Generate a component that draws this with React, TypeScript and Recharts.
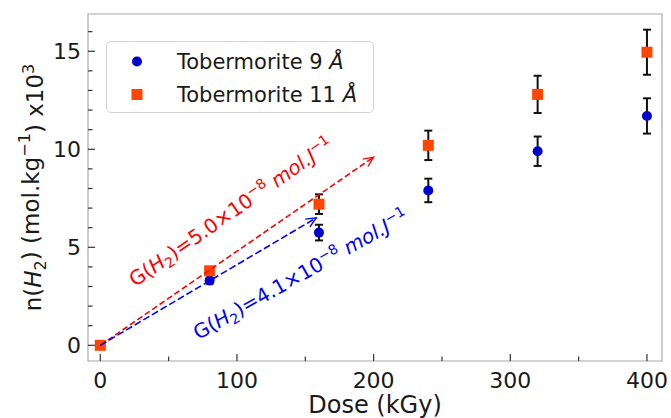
import React from "react";
import {
  ScatterChart,
  Scatter,
  XAxis,
  YAxis,
  ErrorBar,
  ReferenceArea,
  ReferenceDot,
  Legend,
} from "recharts";

const FONT = "DejaVu Sans";
const BLUE = "#0000cd";
const ORANGE = "#ff4500";

// dose in kGy, n(H2) in mol/kg x10^3
const doses = [0, 80, 160, 240, 320, 400];
const tob9 = [0, 3.3, 5.75, 7.9, 9.9, 11.7];
const tob9Err = [0, 0.15, 0.4, 0.6, 0.75, 0.9];
const tob11 = [0, 3.8, 7.2, 10.2, 12.8, 14.95];
const tob11Err = [0, 0.2, 0.5, 0.75, 0.95, 1.15];

const seriesNames = ["Tobermorite 9 Å", "Tobermorite 11 Å"];

const xTicks = [0, 50, 100, 150, 200, 250, 300, 350, 400];
const yTicks = [0, 1, 2, 3, 4, 5, 6, 7, 8, 9, 10, 11, 12, 13, 14, 15, 16];
const xDomain = [-9, 411];
const yDomain = [-0.8, 16.9];

// G(H2) fits drawn as arrows from the origin
const redArrowDose = [0, 200];
const redArrowN = [0, 9.6];
const blueArrowDose = [0, 158];
const blueArrowN = [0, 6.5];

const tob9Data = doses.map((d, i) => ({ dose: d, n: tob9[i], err: tob9Err[i] }));
const tob11Data = doses.map((d, i) => ({ dose: d, n: tob11[i], err: tob11Err[i] }));
const redArrow = redArrowDose.map((d, i) => ({ dose: d, n: redArrowN[i] }));
const blueArrow = blueArrowDose.map((d, i) => ({ dose: d, n: blueArrowN[i] }));

const XTick = (p: any) => {
  const v = p.payload.value;
  const major = v % 100 === 0;
  return (
    <g>
      <line x1={p.x} x2={p.x} y1={p.y} y2={p.y - (major ? 7 : 4.5)} stroke="#333" strokeWidth={1.2} />
      {major && (
        <text x={p.x} y={p.y + 27} textAnchor="middle" fontFamily={FONT} fontSize={22} fill="#1a1a1a">
          {v}
        </text>
      )}
    </g>
  );
};

const YTick = (p: any) => {
  const v = p.payload.value;
  const major = v % 5 === 0;
  return (
    <g>
      <line x1={p.x} x2={p.x + (major ? 7 : 4.5)} y1={p.y} y2={p.y} stroke="#333" strokeWidth={1.2} />
      {major && (
        <text x={p.x - 7} y={p.y} dy="0.36em" textAnchor="end" fontFamily={FONT} fontSize={22} fill="#1a1a1a">
          {v}
        </text>
      )}
    </g>
  );
};

const gLabel = (value: string, color: string, angle: number) => (p: any) => (
  <text
    x={p.cx}
    y={p.cy}
    transform={`rotate(${-angle} ${p.cx} ${p.cy})`}
    fontFamily={FONT}
    fontSize={20}
    fill={color}
  >
    G(<tspan fontStyle="italic">H</tspan>
    <tspan dy="0.3em" fontSize="0.7em">2</tspan>
    <tspan dy="-0.21em">)={value}×10</tspan>
    <tspan dy="-0.55em" fontSize="0.7em">−8</tspan>
    <tspan dy="0.385em" fontStyle="italic"> mol.J</tspan>
    <tspan dy="-0.55em" fontSize="0.7em">−1</tspan>
  </text>
);

const arrowLine = (color: string, dash: string) => (p: any) => {
  const pts = p.points;
  const a = pts[0];
  const b = pts[pts.length - 1];
  const ang = Math.atan2(b.y - a.y, b.x - a.x);
  const L = 11;
  const w = 0.42;
  const h1x = b.x - L * Math.cos(ang - w);
  const h1y = b.y - L * Math.sin(ang - w);
  const h2x = b.x - L * Math.cos(ang + w);
  const h2y = b.y - L * Math.sin(ang + w);
  return (
    <g>
      <path d={`M${a.x},${a.y}L${b.x},${b.y}`} stroke={color} strokeWidth={1.6} strokeDasharray={dash} fill="none" />
      <path d={`M${h1x},${h1y}L${b.x},${b.y}L${h2x},${h2y}`} stroke={color} strokeWidth={1.4} fill="none" />
    </g>
  );
};

const LegendBox = (props: any) => {
  const items = (props.payload || [])
    .filter((e: any) => e.type !== "none")
    .sort((a: any, b: any) => seriesNames.indexOf(a.value) - seriesNames.indexOf(b.value));
  return (
    <div
      style={{
        width: 268,
        height: 72,
        boxSizing: "border-box",
        border: "1px solid #d4d4d4",
        borderRadius: 5,
        background: "rgba(255,255,255,0.85)",
        position: "relative",
        fontFamily: FONT,
        fontSize: 21,
        color: "#1a1a1a",
      }}
    >
      {items.map((e: any, i: number) => (
        <div
          key={i}
          style={{ position: "absolute", left: 0, top: 3 + i * 33, height: 33, display: "flex", alignItems: "center" }}
        >
          <svg width={60} height={33}>
            {e.type === "circle" ? (
              <circle cx={30} cy={16.5} r={5} fill={e.color} />
            ) : (
              <rect x={24.5} y={11} width={11} height={11} fill={e.color} />
            )}
          </svg>
          <span style={{ marginLeft: 10, whiteSpace: "nowrap" }}>
            {String(e.value).slice(0, -1)}
            <i>{String(e.value).slice(-1)}</i>
          </span>
        </div>
      ))}
    </div>
  );
};

const App: React.FC = () => {
  return (
    <div style={{ position: "absolute", left: 0, top: 0 }}>
      <ScatterChart width={671} height={418} margin={{ top: 14, right: 9, bottom: 0, left: 0 }}>
        <XAxis
          type="number"
          dataKey="dose"
          domain={xDomain}
          allowDataOverflow
          ticks={xTicks}
          interval={0}
          height={57}
          axisLine={false}
          tickLine={false}
          tickSize={0}
          tickMargin={0}
          tick={<XTick />}
          label={{
            content: (lp: any) => {
              const vb = lp.viewBox;
              return (
                <text x={vb.x + vb.width / 2} y={vb.y + 52} textAnchor="middle" fontFamily={FONT} fontSize={24} fill="#1a1a1a">
                  Dose (kGy)
                </text>
              );
            },
          }}
        />
        <YAxis
          type="number"
          dataKey="n"
          domain={yDomain}
          allowDataOverflow
          ticks={yTicks}
          interval={0}
          width={88}
          axisLine={false}
          tickLine={false}
          tickSize={0}
          tickMargin={0}
          tick={<YTick />}
          label={{
            content: (lp: any) => {
              const vb = lp.viewBox;
              const cx = vb.x + 41;
              const cy = vb.y + vb.height / 2;
              return (
                <text
                  x={cx}
                  y={cy}
                  transform={`rotate(-90 ${cx} ${cy})`}
                  textAnchor="middle"
                  fontFamily={FONT}
                  fontSize={23}
                  fill="#1a1a1a"
                >
                  n(<tspan fontStyle="italic">H</tspan>
                  <tspan dy="0.3em" fontSize="0.7em">2</tspan>
                  <tspan dy="-0.3em">) (mol.kg</tspan>
                  <tspan dy="-0.55em" fontSize="0.7em">−1</tspan>
                  <tspan dy="0.55em">) x10</tspan>
                  <tspan dy="-0.55em" fontSize="0.7em">3</tspan>
                </text>
              );
            },
          }}
        />
        <ReferenceArea
          x1={xDomain[0]}
          x2={xDomain[1]}
          y1={yDomain[0]}
          y2={yDomain[1]}
          fill="none"
          stroke="#a8a8a8"
          strokeWidth={1.2}
          ifOverflow="visible"
        />
        <Scatter
          name={seriesNames[0]}
          data={tob9Data}
          fill={BLUE}
          legendType="circle"
          isAnimationActive={false}
          shape={(p: any) => <circle cx={p.cx} cy={p.cy} r={5} fill={BLUE} />}
        />
        <Scatter
          name={seriesNames[1]}
          data={tob11Data}
          fill={ORANGE}
          legendType="square"
          isAnimationActive={false}
          shape={(p: any) => <rect x={p.cx - 5.5} y={p.cy - 5.5} width={11} height={11} fill={ORANGE} />}
        />
        <Scatter
          data={tob9Data.filter((d) => d.err > 0)}
          legendType="none"
          isAnimationActive={false}
          shape={() => <g />}
        >
          <ErrorBar dataKey="err" direction="y" width={4} stroke="#111" strokeWidth={2} />
        </Scatter>
        <Scatter
          data={tob11Data.filter((d) => d.err > 0)}
          legendType="none"
          isAnimationActive={false}
          shape={() => <g />}
        >
          <ErrorBar dataKey="err" direction="y" width={4} stroke="#111" strokeWidth={2} />
        </Scatter>
        <Scatter
          data={redArrow}
          legendType="none"
          isAnimationActive={false}
          shape={() => <g />}
          line={arrowLine("#ff0000", "6 3")}
        />
        <Scatter
          data={blueArrow}
          legendType="none"
          isAnimationActive={false}
          shape={() => <g />}
          line={arrowLine("#0000ff", "7 3")}
        />
        <ReferenceDot x={25.6} y={2.96} r={0} ifOverflow="visible" shape={gLabel("5.0", "#ff0000", 35)} />
        <ReferenceDot x={71.6} y={0.26} r={0} ifOverflow="visible" shape={gLabel("4.1", "#0000ff", 29.5)} />
        <Legend
          layout="horizontal"
          verticalAlign="middle"
          align="center"
          content={LegendBox}
          wrapperStyle={{ left: 106, top: 41, width: 268 }}
        />
      </ScatterChart>
    </div>
  );
};

export default App;
